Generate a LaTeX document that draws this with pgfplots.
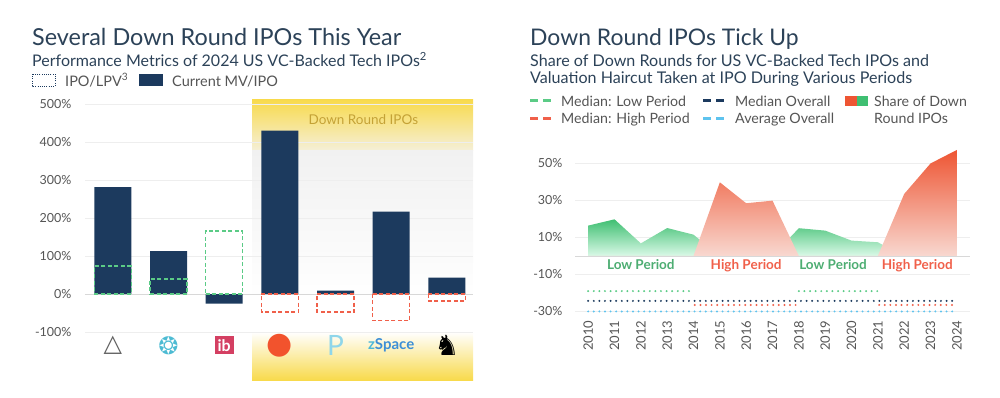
\documentclass[border=0pt]{standalone}
\usepackage{pgfplots}
\pgfplotsset{compat=1.18}
\usepackage{fontspec}
\setmainfont{Lato}
\newfontfamily\dejavu{DejaVu Sans}
\definecolor{navy}{HTML}{1C3A5E}
\definecolor{titlec}{HTML}{2C4258}
\definecolor{txtgray}{HTML}{555555}
\definecolor{gridc}{HTML}{EEEEEE}
\definecolor{basec}{HTML}{D8D8D8}
\definecolor{grn}{HTML}{5BCB86}
\definecolor{redd}{HTML}{F0604A}
\definecolor{lblue}{HTML}{5EC3EE}
\definecolor{yel}{HTML}{F8DA4C}
\definecolor{yelpale}{HTML}{F5EFD6}
\definecolor{bandgray}{HTML}{F1F1F1}
\definecolor{bandlabel}{HTML}{C4A236}
\definecolor{agtop}{HTML}{3FBF72}
\definecolor{agbot}{HTML}{DAF9E7}
\definecolor{artop}{HTML}{EE5533}
\definecolor{arbot}{HTML}{F8D8D0}
\definecolor{ibred}{HTML}{D43F62}
\definecolor{zblue}{HTML}{3D8FD6}
\definecolor{zlight}{HTML}{4CB8D8}
\definecolor{pblue}{HTML}{8FD6EA}
\definecolor{teal}{HTML}{4DBBD3}
\definecolor{redditc}{HTML}{F2532D}
\newcommand{\logoA}{{\dejavu\bfseries\fontsize{24}{24}\selectfont\textcolor{gray!75!black}{△}}}
\newcommand{\logoB}{{\dejavu\fontsize{24}{24}\selectfont\textcolor{teal}{❂}}}
\newcommand{\logoC}{{\setlength{\fboxsep}{3pt}\colorbox{ibred}{\textcolor{white}{\bfseries\fontsize{16}{16}\selectfont ib}}}}
\newcommand{\logoD}{{\dejavu\fontsize{30}{30}\selectfont\textcolor{redditc}{●}}}
\newcommand{\logoE}{{\fontsize{28}{28}\selectfont\textcolor{pblue}{P}}}
\newcommand{\logoF}{{\bfseries\fontsize{15}{15}\selectfont\textcolor{zlight}{z}\textcolor{zblue}{Space}}}
\newcommand{\logoG}{{\dejavu\fontsize{28}{28}\selectfont\textcolor{black}{♞}}}
\tikzset{dotline/.style={line width=2.2pt, line cap=round, dash pattern=on 0pt off 5.6pt}}
\begin{document}
\begin{tikzpicture}
\path[use as bounding box] (0pt,0pt) rectangle (1000pt,-397pt);
% ---------- down-round band (background)
\shade[top color=yel, bottom color=yelpale] (252pt,-99.4pt) rectangle (473pt,-150pt);
\shade[top color=bandgray, bottom color=white] (252pt,-150pt) rectangle (473pt,-300.1pt);
\shade[top color=white, bottom color=yel] (252pt,-332pt) rectangle (473pt,-380pt);
% ---------- left titles and legend
\node[anchor=base west, inner sep=0, text=titlec, font=\fontsize{23.4}{27}\selectfont] at (32pt,-45pt) {Several Down Round IPOs This Year};
\node[anchor=base west, inner sep=0, text=titlec, font=\fontsize{16}{19}\selectfont] at (32pt,-66.5pt) {Performance Metrics of 2024 US VC-Backed Tech IPOs\textsuperscript{2}};
\draw[navy, line width=1pt, dash pattern=on 1pt off 1.2pt] (32pt,-74pt) rectangle (55pt,-86pt);
\node[anchor=base west, inner sep=0, text=txtgray, font=\fontsize{14.5}{17}\selectfont] at (65pt,-86pt) {IPO/LPV\textsuperscript{3}};
\fill[navy] (139pt,-74pt) rectangle (163pt,-86pt);
\node[anchor=base west, inner sep=0, text=txtgray, font=\fontsize{14.5}{17}\selectfont] at (172pt,-86pt) {Current MV/IPO};
% ---------- right titles and legend
\node[anchor=base west, inner sep=0, text=titlec, font=\fontsize{22.9}{27}\selectfont] at (530pt,-45pt) {Down Round IPOs Tick Up};
\node[anchor=base west, inner sep=0, text=titlec, font=\fontsize{16.1}{19}\selectfont] at (530pt,-66pt) {Share of Down Rounds for US VC-Backed Tech IPOs and};
\node[anchor=base west, inner sep=0, text=titlec, font=\fontsize{16.1}{19}\selectfont] at (530pt,-83.3pt) {Valuation Haircut Taken at IPO During Various Periods};
\draw[grn, line width=2.6pt, dash pattern=on 8pt off 5pt] (530pt,-100.7pt) -- (554pt,-100.7pt);
\node[anchor=base west, inner sep=0, text=txtgray, font=\fontsize{14.2}{16}\selectfont] at (561pt,-106pt) {Median: Low Period};
\draw[redd, line width=2.6pt, dash pattern=on 8pt off 5pt] (530pt,-118.3pt) -- (554pt,-118.3pt);
\node[anchor=base west, inner sep=0, text=txtgray, font=\fontsize{14.2}{16}\selectfont] at (561pt,-123.5pt) {Median: High Period};
\draw[navy, line width=2.6pt, dash pattern=on 8pt off 5pt] (703pt,-100.7pt) -- (727pt,-100.7pt);
\node[anchor=base west, inner sep=0, text=txtgray, font=\fontsize{14.2}{16}\selectfont] at (735pt,-106pt) {Median Overall};
\draw[lblue, line width=2.6pt, dash pattern=on 8pt off 5pt] (703pt,-118.3pt) -- (727pt,-118.3pt);
\node[anchor=base west, inner sep=0, text=txtgray, font=\fontsize{14.2}{16}\selectfont] at (735pt,-123.5pt) {Average Overall};
\fill[artop] (845pt,-95.7pt) rectangle (857pt,-106pt);
\fill[agtop] (857pt,-95.7pt) rectangle (868pt,-106pt);
\node[anchor=base west, inner sep=0, text=txtgray, font=\fontsize{14.2}{16}\selectfont] at (874pt,-106pt) {Share of Down};
\node[anchor=base west, inner sep=0, text=txtgray, font=\fontsize{14.2}{16}\selectfont] at (874pt,-123.5pt) {Round IPOs};
% ---------- left chart
\begin{axis}[at={(85pt,-335.8pt)}, anchor=south west, scale only axis,
  width=388pt, height=235.6pt, xmin=-0.5, xmax=6.47, ymin=-110, ymax=510,
  clip=false,
  ytick={-100,0,100,200,300,400,500},
  yticklabel={\pgfmathprintnumber{\tick}\%},
  /pgf/number format/assume math mode=true,
  ymajorgrids, grid style={draw=gridc, line width=0.8pt},
  axis line style={draw=none}, major tick length=0pt,
  tick label style={text=txtgray, font=\fontsize{12.5}{14}\selectfont},
  yticklabel style={xshift=-10pt},
  xtick={0,1,2,3,4,5,6},
  xticklabels={{\logoA},{\logoB},{\logoC},{\logoD},{\logoE},{\logoF},{\logoG}},
  xticklabel style={anchor=center, yshift=-9.5pt},
]
\node[text=bandlabel, font=\fontsize{13.5}{16}\selectfont] at (axis cs:4.5,458) {Down Round IPOs};
\addplot[basec, line width=0.9pt] coordinates {(-0.5,0) (6.47,0)};
\addplot[ybar, bar width=37pt, bar shift=0pt, fill=navy, draw=none]
  coordinates {(0,281) (1,113) (2,-25) (3,430) (4,9) (5,217) (6,43)};
\addplot[ybar, bar width=37pt, bar shift=0pt, fill=none, draw=grn, line width=1.5pt, dash pattern=on 4pt off 2.5pt]
  coordinates {(0,74) (1,40) (2,166)};
\addplot[ybar, bar width=37pt, bar shift=0pt, fill=none, draw=redd, line width=1.5pt, dash pattern=on 4pt off 2.5pt]
  coordinates {(3,-48) (4,-48) (5,-70) (6,-19)};
\end{axis}
% ---------- right chart
\begin{axis}[at={(575pt,-317pt)}, anchor=south west, scale only axis,
  width=395pt, height=172.05pt, xmin=2009.5, xmax=2024.5, ymin=-33, ymax=60,
  clip=false,
  ytick={-30,-10,10,30,50},
  yticklabel={\pgfmathprintnumber{\tick}\%},
  /pgf/number format/assume math mode=true,
  /pgf/number format/1000 sep={},
  ymajorgrids, grid style={draw=gridc, line width=0.8pt},
  axis line style={draw=none}, major tick length=0pt,
  tick label style={text=txtgray, font=\fontsize{12.5}{14}\selectfont},
  yticklabel style={xshift=-9pt},
  xtick={2010,2011,...,2024},
  xticklabel style={rotate=90, anchor=east, font=\fontsize{13}{15}\selectfont},
]
\addplot[basec, line width=0.9pt] coordinates {(2009.5,0) (2024.5,0)};
\addplot[draw=none, top color=agtop, bottom color=agbot] coordinates {
 (2010,0) (2010,16.4) (2011,19.8) (2012,6.8) (2013,15.1) (2014,11.5) (2015,0) (2016,0) (2017,0)
 (2018,15) (2019,13.7) (2020,8.3) (2021,7.4) (2022,0) (2023,0) (2024,0)} \closedcycle;
\addplot[draw=none, top color=artop, bottom color=arbot] coordinates {
 (2010,0) (2011,0) (2012,0) (2013,0) (2014,0) (2015,39.8) (2016,28.5) (2017,29.9) (2018,0)
 (2019,0) (2020,0) (2021,0) (2022,33.5) (2023,50) (2024,57.3) (2024,0)} \closedcycle;
\addplot[grn, dotline] coordinates {(2010,-19) (2014,-19)};
\addplot[grn, dotline] coordinates {(2018,-19) (2021,-19)};
\addplot[navy, dotline] coordinates {(2010,-24.3) (2024,-24.3)};
\addplot[redd, dotline] coordinates {(2014.05,-26.5) (2017.9,-26.5)};
\addplot[redd, dotline] coordinates {(2021.05,-26.5) (2024,-26.5)};
\addplot[lblue, dotline] coordinates {(2010,-30) (2024,-30)};
\node[text=grn!85!black, font=\fontsize{13.5}{16}\selectfont\bfseries, anchor=base] at (axis cs:2012,-7.2) {Low Period};
\node[text=redd, font=\fontsize{13.5}{16}\selectfont\bfseries, anchor=base] at (axis cs:2016,-7.2) {High Period};
\node[text=grn!85!black, font=\fontsize{13.5}{16}\selectfont\bfseries, anchor=base] at (axis cs:2019.3,-7.2) {Low Period};
\node[text=redd, font=\fontsize{13.5}{16}\selectfont\bfseries, anchor=base] at (axis cs:2022.5,-7.2) {High Period};
\end{axis}
\end{tikzpicture}
\end{document}
